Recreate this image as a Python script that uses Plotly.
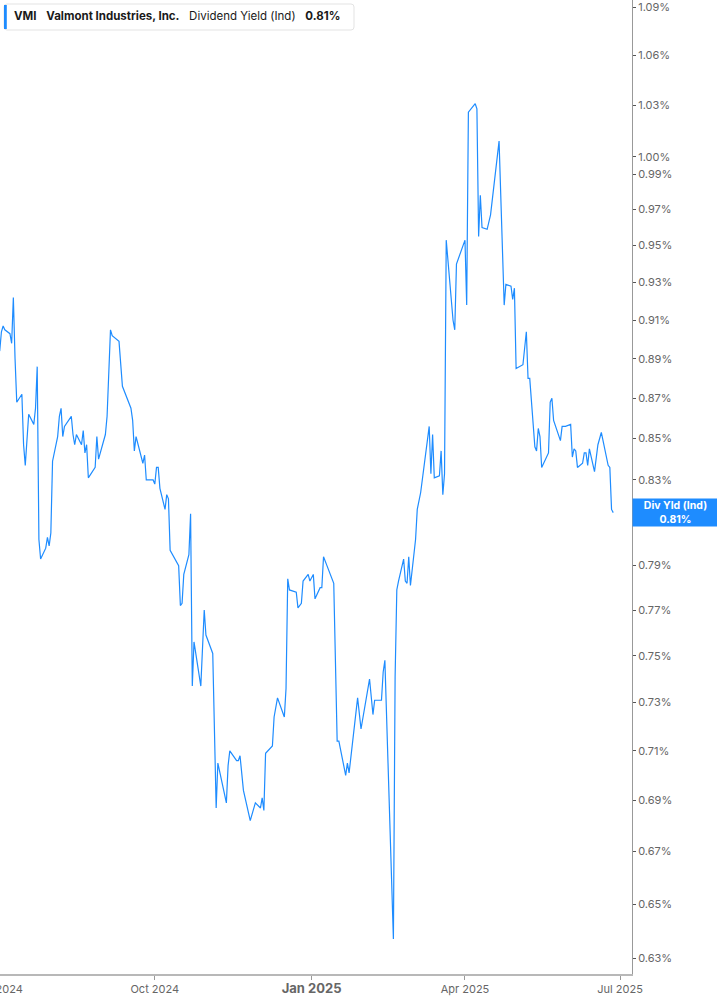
import numpy as np
import plotly.graph_objects as go

ticker = "VMI"
company = "Valmont Industries, Inc."
metric = "Dividend Yield (Ind)"

dates = [
    "2024-07-01", "2024-07-02", "2024-07-03", "2024-07-04", "2024-07-05", "2024-07-08",
    "2024-07-09", "2024-07-10", "2024-07-11", "2024-07-12", "2024-07-15", "2024-07-16",
    "2024-07-17", "2024-07-19", "2024-07-22", "2024-07-23", "2024-07-24", "2024-07-25",
    "2024-07-26", "2024-07-29", "2024-07-30", "2024-07-31", "2024-08-01", "2024-08-02",
    "2024-08-05", "2024-08-06", "2024-08-07", "2024-08-08", "2024-08-09", "2024-08-13",
    "2024-08-14", "2024-08-15", "2024-08-16", "2024-08-19", "2024-08-20", "2024-08-21",
    "2024-08-22", "2024-08-23", "2024-08-27", "2024-08-28", "2024-08-29", "2024-09-02",
    "2024-09-03", "2024-09-04", "2024-09-05", "2024-09-06", "2024-09-10", "2024-09-12",
    "2024-09-17", "2024-09-18", "2024-09-19", "2024-09-20", "2024-09-24", "2024-09-25",
    "2024-09-26", "2024-09-30", "2024-10-01", "2024-10-02", "2024-10-03", "2024-10-04",
    "2024-10-07", "2024-10-08", "2024-10-09", "2024-10-10", "2024-10-15", "2024-10-16",
    "2024-10-17", "2024-10-18", "2024-10-21", "2024-10-22", "2024-10-23", "2024-10-24",
    "2024-10-28", "2024-10-30", "2024-10-31", "2024-11-04", "2024-11-06", "2024-11-07",
    "2024-11-12", "2024-11-13", "2024-11-14", "2024-11-18", "2024-11-19", "2024-11-20",
    "2024-11-22", "2024-11-26", "2024-11-29", "2024-12-02", "2024-12-03", "2024-12-04",
    "2024-12-05", "2024-12-09", "2024-12-10", "2024-12-12", "2024-12-16", "2024-12-17",
    "2024-12-18", "2024-12-19", "2024-12-23", "2024-12-24", "2024-12-26", "2024-12-27",
    "2024-12-30", "2024-12-31", "2025-01-02", "2025-01-03", "2025-01-06", "2025-01-07",
    "2025-01-08", "2025-01-10", "2025-01-13", "2025-01-14", "2025-01-16", "2025-01-17",
    "2025-01-21", "2025-01-22", "2025-01-23", "2025-01-28", "2025-01-30", "2025-02-04",
    "2025-02-06", "2025-02-07", "2025-02-11", "2025-02-12", "2025-02-13", "2025-02-18",
    "2025-02-19", "2025-02-20", "2025-02-21", "2025-02-24", "2025-02-25", "2025-02-26",
    "2025-02-27", "2025-02-28", "2025-03-03", "2025-03-04", "2025-03-06", "2025-03-11",
    "2025-03-12", "2025-03-13", "2025-03-14", "2025-03-17", "2025-03-18", "2025-03-19",
    "2025-03-20", "2025-03-21", "2025-03-25", "2025-03-26", "2025-03-27", "2025-04-01",
    "2025-04-02", "2025-04-03", "2025-04-07", "2025-04-08", "2025-04-09", "2025-04-10",
    "2025-04-11", "2025-04-14", "2025-04-16", "2025-04-21", "2025-04-24", "2025-04-25",
    "2025-04-28", "2025-04-29", "2025-04-30", "2025-05-01", "2025-05-05", "2025-05-07",
    "2025-05-08", "2025-05-09", "2025-05-12", "2025-05-13", "2025-05-14", "2025-05-15",
    "2025-05-16", "2025-05-20", "2025-05-21", "2025-05-22", "2025-05-23", "2025-05-27",
    "2025-05-28", "2025-05-30", "2025-06-02", "2025-06-03", "2025-06-04", "2025-06-05",
    "2025-06-06", "2025-06-09", "2025-06-10", "2025-06-11", "2025-06-12", "2025-06-13",
    "2025-06-16", "2025-06-18", "2025-06-20", "2025-06-24", "2025-06-25", "2025-06-26",
    "2025-06-27",
]

# dividend yield in percent
div_yield = [
    0.896, 0.894, 0.904, 0.907, 0.905, 0.903,
    0.898, 0.922, 0.890, 0.868, 0.872, 0.847,
    0.837, 0.862, 0.857, 0.865, 0.886, 0.802,
    0.793, 0.798, 0.803, 0.799, 0.805, 0.839,
    0.851, 0.861, 0.865, 0.851, 0.856, 0.861,
    0.852, 0.847, 0.852, 0.847, 0.854, 0.843,
    0.847, 0.831, 0.836, 0.851, 0.840, 0.852,
    0.861, 0.881, 0.905, 0.902, 0.899, 0.876,
    0.865, 0.859, 0.844, 0.851, 0.838, 0.842,
    0.830, 0.830, 0.828, 0.836, 0.836, 0.826,
    0.816, 0.823, 0.821, 0.797, 0.790, 0.772,
    0.773, 0.786, 0.795, 0.814, 0.737, 0.756,
    0.737, 0.770, 0.759, 0.751, 0.687, 0.705,
    0.689, 0.704, 0.710, 0.706, 0.706, 0.708,
    0.694, 0.682, 0.689, 0.687, 0.691, 0.686,
    0.709, 0.712, 0.724, 0.732, 0.724, 0.736,
    0.784, 0.779, 0.778, 0.771, 0.773, 0.783,
    0.786, 0.783, 0.786, 0.775, 0.780, 0.780,
    0.794, 0.790, 0.784, 0.782, 0.714, 0.714,
    0.700, 0.705, 0.701, 0.732, 0.719, 0.740,
    0.725, 0.731, 0.731, 0.743, 0.748, 0.637,
    0.741, 0.779, 0.783, 0.793, 0.783, 0.782,
    0.794, 0.781, 0.802, 0.816, 0.824, 0.856,
    0.833, 0.852, 0.831, 0.832, 0.844, 0.823,
    0.833, 0.953, 0.910, 0.905, 0.940, 0.953,
    0.918, 1.026, 1.031, 1.028, 0.955, 0.978,
    0.960, 0.959, 0.967, 1.009, 0.918, 0.929,
    0.928, 0.921, 0.927, 0.885, 0.887, 0.904,
    0.880, 0.880, 0.846, 0.844, 0.855, 0.851,
    0.836, 0.843, 0.868, 0.870, 0.859, 0.849,
    0.856, 0.856, 0.857, 0.841, 0.845, 0.844,
    0.836, 0.838, 0.843, 0.843, 0.837, 0.845,
    0.834, 0.847, 0.853, 0.837, 0.836, 0.816,
    0.8145,
]

y_ticks = [0.63, 0.65, 0.67, 0.69, 0.71, 0.73, 0.75, 0.77, 0.79, 0.81, 0.83, 0.85,
           0.87, 0.89, 0.91, 0.93, 0.95, 0.97, 0.99, 1.00, 1.03, 1.06, 1.09]
x_ticks = ["2024-10-01", "2025-01-01", "2025-04-01", "2025-07-01"]
x_labels = ["Oct 2024", "<span style='font-size:13px'><b>Jan 2025</b></span>",
            "Apr 2025", "Jul 2025"]
first_label = "Jul 2024"

blue = "#1e8cff"
W, H = 717, 1005
ml, mr, mt, mb = 0, 85, 0, 31
pw, ph = W - ml - mr, H - mt - mb

fig = go.Figure()
fig.add_trace(go.Scatter(
    x=dates, y=div_yield, mode="lines",
    line=dict(color=blue, width=1.2),
    hoverinfo="x+y", showlegend=False,
))

# header box with rounded corners (pixel -> paper)
def px(x):
    return x / pw

def py(y):
    return 1 - y / ph

x0, x1, y0, y1, r = 4, 354, 4, 30, 3
box = (f"M {px(x0 + r)} {py(y0)} L {px(x1 - r)} {py(y0)} "
       f"Q {px(x1)} {py(y0)} {px(x1)} {py(y0 + r)} L {px(x1)} {py(y1 - r)} "
       f"Q {px(x1)} {py(y1)} {px(x1 - r)} {py(y1)} L {px(x0 + r)} {py(y1)} "
       f"Q {px(x0)} {py(y1)} {px(x0)} {py(y1 - r)} L {px(x0)} {py(y0 + r)} "
       f"Q {px(x0)} {py(y0)} {px(x0 + r)} {py(y0)} Z")

shapes = [
    dict(type="path", xref="paper", yref="paper", path=box,
         fillcolor="white", line=dict(color="#e3e3e3", width=1), layer="above"),
    dict(type="rect", xref="paper", yref="paper",
         x0=px(4), x1=px(6.8), y0=py(5), y1=py(29),
         fillcolor=blue, line=dict(width=0), layer="above"),
]

sp = "&nbsp;&nbsp;&nbsp;"
header = (f"<b>{ticker}</b>{sp}<b>{company}</b>{sp}{metric}{sp}"
          f"<b>{div_yield[-1]:.2f}%</b>")

annotations = [
    dict(xref="paper", yref="paper", x=px(12), y=py(16.5), xanchor="left",
         yanchor="middle", text=header, showarrow=False,
         font=dict(family="Inter", size=11.5, color="#1a1a1a")),
    dict(xref="paper", yref="y", x=1, y=np.log10(div_yield[-1]), xanchor="left",
         yanchor="middle", text=f"<b>Div Yld (Ind)<br>{div_yield[-1]:.2f}%</b>",
         showarrow=False, bgcolor=blue, width=85, height=27, borderpad=0,
         align="center", font=dict(family="Inter", size=10.5, color="white")),
    # first tick label (Jul 2024) sits partly off the left edge
    dict(xref="paper", yref="paper", x=px(0), y=0, xanchor="center",
         yanchor="top", yshift=-6, text=first_label, showarrow=False,
         font=dict(family="Inter", size=11, color="#666666")),
]

fig.update_layout(
    width=W, height=H,
    margin=dict(l=ml, r=mr, t=mt, b=mb),
    paper_bgcolor="white", plot_bgcolor="white",
    font=dict(family="Inter", size=11, color="#666666"),
    shapes=shapes, annotations=annotations,
    showlegend=False,
)

fig.update_xaxes(
    type="date", range=["2024-07-02 04:00", "2025-07-08"],
    tickvals=x_ticks, ticktext=x_labels,
    showgrid=False, zeroline=False,
    showline=True, linecolor="#b8b8b8", linewidth=2,
    ticks="outside", ticklen=4, tickcolor="#999999",
    tickfont=dict(family="Inter", size=11, color="#666666"),
)

fig.update_yaxes(
    type="log", side="right",
    range=[np.log10(0.6243), np.log10(1.0945)],
    tickvals=y_ticks, ticktext=[f"{v:.2f}%" for v in y_ticks],
    ticklabeloverflow="allow",
    showgrid=False, zeroline=False,
    showline=True, linecolor="#999999", linewidth=1,
    ticks="outside", ticklen=3, tickcolor="#555555",
    tickfont=dict(family="Inter", size=11, color="#666666"),
)

# drop the default page margin so the figure fills the window
fig.write_html(
    "out.html",
    config={"displayModeBar": False},
    post_script="document.body.style.margin='0';document.body.style.overflow='hidden';",
)
